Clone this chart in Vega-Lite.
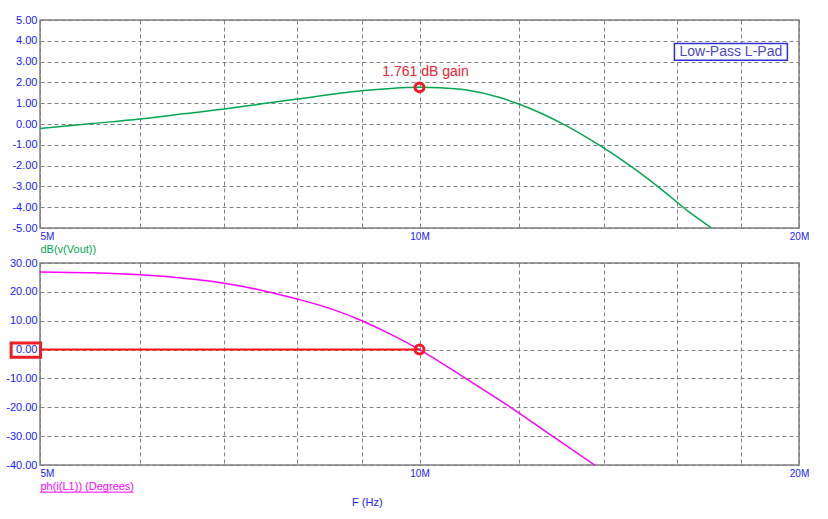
{
  "$schema": "https://vega.github.io/schema/vega-lite/v6.json",
  "background": "white",
  "padding": {"left": 5, "top": 13, "right": 0, "bottom": 0},
  "bounds": "flush",
  "spacing": 35,
  "config": {
    "font": "Liberation Sans",
    "locale": {"number": {"decimal": ".", "thousands": ",", "grouping": [3], "currency": ["$", ""], "minus": "-"}},
    "view": {"stroke": "#808080", "strokeWidth": 1.5},
    "axis": {
      "grid": true,
      "gridColor": "#808080",
      "gridDash": [4, 3],
      "gridWidth": 1,
      "gridOpacity": 1,
      "ticks": false,
      "domain": false,
      "labelColor": "#2020ff",
      "labelFont": "Liberation Sans",
      "labelOverlap": false,
      "labelSeparation": 0,
      "titleFont": "Liberation Sans",
      "titleFontWeight": "normal"
    }
  },
  "datasets": {
    "gain": [
      {"f": 5000000, "db": -0.22},
      {"f": 5500000, "db": 0.02},
      {"f": 6000000, "db": 0.24},
      {"f": 6500000, "db": 0.49},
      {"f": 7000000, "db": 0.72},
      {"f": 7500000, "db": 0.97},
      {"f": 8000000, "db": 1.2},
      {"f": 8640000, "db": 1.48},
      {"f": 9000000, "db": 1.6},
      {"f": 9500000, "db": 1.71},
      {"f": 10000000, "db": 1.761},
      {"f": 10380000, "db": 1.74},
      {"f": 10900000, "db": 1.63},
      {"f": 11580000, "db": 1.27},
      {"f": 12000000, "db": 0.95},
      {"f": 12460000, "db": 0.54},
      {"f": 12920000, "db": 0.08},
      {"f": 13900000, "db": -1.03},
      {"f": 14680000, "db": -1.99},
      {"f": 15510000, "db": -3.08},
      {"f": 16380000, "db": -4.25},
      {"f": 17050000, "db": -5.0}
    ],
    "phase": [
      {"f": 5000000, "ph": 26.9},
      {"f": 5500000, "ph": 26.6},
      {"f": 6000000, "ph": 25.9},
      {"f": 6500000, "ph": 24.7},
      {"f": 7000000, "ph": 23.0},
      {"f": 7500000, "ph": 20.5},
      {"f": 8000000, "ph": 17.5},
      {"f": 8500000, "ph": 14.2},
      {"f": 9000000, "ph": 10.0},
      {"f": 9500000, "ph": 5.2},
      {"f": 10000000, "ph": 0.0},
      {"f": 10880000, "ph": -10.0},
      {"f": 11810000, "ph": -20.0},
      {"f": 12750000, "ph": -30.0},
      {"f": 13770000, "ph": -40.0}
    ],
    "gainMarker": [{"f": 10000000, "db": 1.761, "label": "1.761 dB gain"}],
    "phaseMarker": [{"f": 10000000, "ph": 0.0}],
    "cursor": [{"f": 5000000, "f2": 10000000, "ph": 0.0}],
    "note": [{"label": "Low-Pass L-Pad"}]
  },
  "title": {
    "text": "F (Hz)",
    "orient": "bottom",
    "anchor": "middle",
    "dx": -40,
    "offset": 4,
    "fontSize": 11,
    "fontWeight": "normal",
    "font": "Liberation Sans",
    "color": "#2020ff"
  },
  "vconcat": [
    {
      "width": 759,
      "height": 208,
      "layer": [
        {
          "data": {"name": "gain"},
          "mark": {"type": "line", "color": "#00a651", "strokeWidth": 1.5, "clip": true, "interpolate": "monotone"},
          "encoding": {
            "x": {
              "field": "f", "type": "quantitative",
              "scale": {"type": "log", "domain": [5000000, 20000000], "nice": false},
              "axis": {
                "values": [5000000, 6000000, 7000000, 8000000, 9000000, 10000000, 12000000, 14000000, 16000000, 18000000, 20000000],
                "tickCount": 30,
                "labelExpr": "datum.value == 5000000 ? '5M' : datum.value == 10000000 ? '10M' : datum.value == 20000000 ? '20M' : ''",
                "labelFlush": false,
                "labelOverlap": false,
                "labelAlign": {"condition": {"test": "datum.value == 5000000", "value": "left"}, "value": "center"},
                "labelFontSize": 10,
                "labelPadding": 3,
                "title": "dB(v(Vout))",
                "titleColor": "#00a651",
                "titleFontSize": 11,
                "titleAnchor": "start",
                "titleAlign": "left",
                "titlePadding": 2
              }
            },
            "y": {
              "field": "db", "type": "quantitative",
              "scale": {"domain": [-5, 5], "nice": false, "zero": false},
              "axis": {
                "values": [-5, -4, -3, -2, -1, 0, 1, 2, 3, 4, 5],
                "tickCount": 30,
                "format": ".2f",
                "labelOverlap": false,
                "labelFontSize": 11,
                "labelPadding": 3,
                "title": null
              }
            }
          }
        },
        {
          "data": {"name": "note"},
          "mark": {"type": "rect", "fill": "white", "stroke": "#3030d0", "strokeWidth": 1.5},
          "encoding": {
            "x": {"datum": 15930000, "type": "quantitative"},
            "x2": {"datum": 19580000},
            "y": {"datum": 3.87, "type": "quantitative"},
            "y2": {"datum": 3.07}
          }
        },
        {
          "data": {"name": "note"},
          "mark": {"type": "text", "fontSize": 14, "color": "#4848c8", "align": "center", "baseline": "middle"},
          "encoding": {
            "x": {"datum": 17660000, "type": "quantitative"},
            "y": {"datum": 3.47, "type": "quantitative"},
            "text": {"field": "label"}
          }
        },
        {
          "data": {"name": "gainMarker"},
          "mark": {"type": "point", "shape": "circle", "filled": false, "color": "#ee1c24", "strokeWidth": 3, "size": 80, "opacity": 1},
          "encoding": {
            "x": {"field": "f", "type": "quantitative"},
            "y": {"field": "db", "type": "quantitative"}
          }
        },
        {
          "data": {"name": "gainMarker"},
          "mark": {"type": "text", "fontSize": 14, "color": "#ee2233", "align": "center", "baseline": "middle", "dx": 6, "dy": -15},
          "encoding": {
            "x": {"field": "f", "type": "quantitative"},
            "y": {"field": "db", "type": "quantitative"},
            "text": {"field": "label"}
          }
        }
      ]
    },
    {
      "width": 759,
      "height": 202,
      "layer": [
        {
          "data": {"name": "phase"},
          "mark": {"type": "line", "color": "#ff00ff", "strokeWidth": 1.5, "clip": true, "interpolate": "monotone"},
          "encoding": {
            "x": {
              "field": "f", "type": "quantitative",
              "scale": {"type": "log", "domain": [5000000, 20000000], "nice": false},
              "axis": {
                "values": [5000000, 6000000, 7000000, 8000000, 9000000, 10000000, 12000000, 14000000, 16000000, 18000000, 20000000],
                "tickCount": 30,
                "labelExpr": "datum.value == 5000000 ? '5M' : datum.value == 10000000 ? '10M' : datum.value == 20000000 ? '20M' : ''",
                "labelFlush": false,
                "labelOverlap": false,
                "labelAlign": {"condition": {"test": "datum.value == 5000000", "value": "left"}, "value": "center"},
                "labelFontSize": 10,
                "labelPadding": 3,
                "title": "ph(i(L1)) (Degrees)",
                "titleColor": "#ff00ff",
                "titleFontSize": 11,
                "titleAnchor": "start",
                "titleAlign": "left",
                "titlePadding": 2
              }
            },
            "y": {
              "field": "ph", "type": "quantitative",
              "scale": {"domain": [-40, 30], "nice": false, "zero": false},
              "axis": {
                "values": [-40, -30, -20, -10, 0, 10, 20, 30],
                "tickCount": 30,
                "format": ".2f",
                "labelOverlap": false,
                "labelFontSize": 11,
                "labelPadding": 3,
                "title": null
              }
            }
          }
        },
        {
          "data": {"name": "cursor"},
          "mark": {"type": "rule", "color": "#ff1414", "strokeWidth": 2},
          "encoding": {
            "x": {"field": "f", "type": "quantitative"},
            "x2": {"field": "f2"},
            "y": {"field": "ph", "type": "quantitative"}
          }
        },
        {
          "data": {"name": "phaseMarker"},
          "mark": {"type": "rect", "fill": null, "fillOpacity": 0, "stroke": "#ee1c24", "strokeWidth": 3},
          "encoding": {
            "x": {"datum": 4743000, "type": "quantitative"},
            "x2": {"datum": 5005000},
            "y": {"datum": 2.3, "type": "quantitative"},
            "y2": {"datum": -2.7}
          }
        },
        {
          "data": {"name": "phaseMarker"},
          "mark": {"type": "rule", "color": "#ff00ff", "strokeWidth": 1},
          "encoding": {
            "x": {"datum": 5000000, "type": "quantitative"},
            "x2": {"datum": 5930000},
            "y": {"datum": -49.4, "type": "quantitative"}
          }
        },
        {
          "data": {"name": "phaseMarker"},
          "mark": {"type": "point", "shape": "circle", "filled": false, "color": "#ee1c24", "strokeWidth": 3, "size": 80, "opacity": 1},
          "encoding": {
            "x": {"field": "f", "type": "quantitative"},
            "y": {"field": "ph", "type": "quantitative"}
          }
        }
      ]
    }
  ]
}
